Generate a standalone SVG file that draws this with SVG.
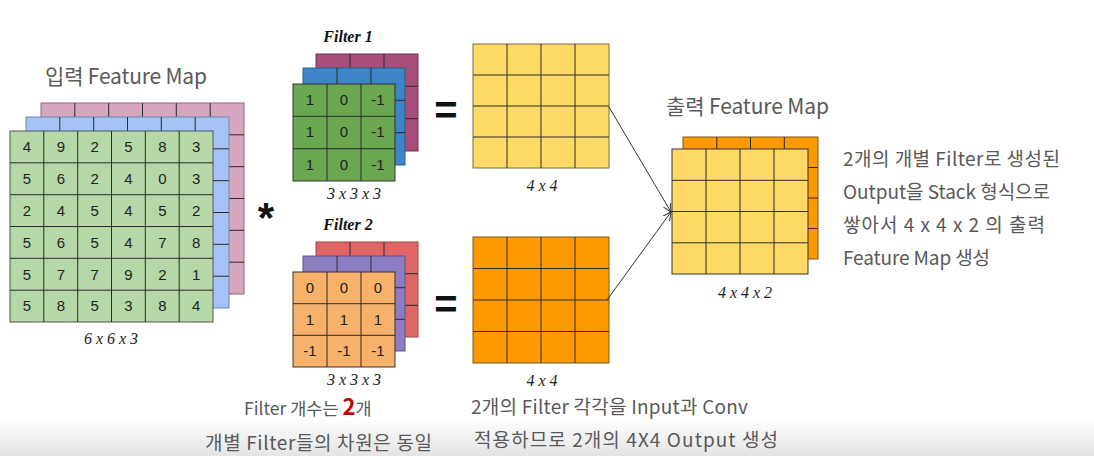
<svg xmlns="http://www.w3.org/2000/svg" width="1094" height="456" viewBox="0 0 1094 456">
<defs>
<linearGradient id="bg" x1="0" y1="0" x2="0" y2="1">
<stop offset="0" stop-color="#ffffff"/>
<stop offset="1" stop-color="#e4e4e4"/>
</linearGradient>
<marker id="ah" markerWidth="10" markerHeight="10" refX="8" refY="4" orient="auto" markerUnits="userSpaceOnUse">
<path d="M0,0 L8,4 L0,8" fill="none" stroke="#333" stroke-width="1"/>
</marker>
<style>
.grid{stroke:#2b2b2b;stroke-width:1;fill:none}
.num{font-family:"Liberation Sans",Arial,sans-serif;font-size:15px;fill:#222;text-anchor:middle}
.dim{font-family:"Liberation Serif","Times New Roman",serif;font-style:italic;font-size:16px;fill:#222;text-anchor:middle}
.ftitle{font-family:"Liberation Serif","Times New Roman",serif;font-style:italic;font-weight:bold;font-size:16px;fill:#111;text-anchor:middle}
.lbl{font-family:"Noto Sans CJK KR","Noto Sans",sans-serif;font-size:21px;fill:#595959}
.note{font-family:"Noto Sans CJK KR","Noto Sans",sans-serif;font-size:19px;fill:#595959}
.op{font-family:"Liberation Sans",Arial,sans-serif;font-weight:bold;fill:#111;text-anchor:middle}
</style>
</defs>
<rect x="0" y="0" width="1094" height="456" fill="#ffffff"/>
<rect x="0" y="418" width="1094" height="38" fill="url(#bg)"/>

<g id="input-map">
<text class="lbl" x="45" y="84" textLength="162" lengthAdjust="spacing">입력 Feature Map</text>
<g id="input-pink">
<rect x="41" y="103" width="203" height="191" fill="#d5a6bd" stroke="#8a6b7a"/>
<path class="grid" d="M74.8,103V294M108.7,103V294M142.5,103V294M176.3,103V294M210.2,103V294M41,134.8H244M41,166.7H244M41,198.5H244M41,230.3H244M41,262.2H244"/>
</g>
<g id="input-blue">
<rect x="26" y="117" width="203" height="191" fill="#a4c2f4" stroke="#6f88b0"/>
<path class="grid" d="M59.8,117V308M93.7,117V308M127.5,117V308M161.3,117V308M195.2,117V308M26,148.8H229M26,180.7H229M26,212.5H229M26,244.3H229M26,276.2H229"/>
</g>
<g id="input-green">
<rect x="10" y="131" width="203" height="191" fill="#b6d7a8" stroke="#555"/>
<path class="grid" d="M43.8,131V322M77.7,131V322M111.5,131V322M145.3,131V322M179.2,131V322M10,162.8H213M10,194.7H213M10,226.5H213M10,258.3H213M10,290.2H213"/>
<g class="num">
<text x="26.9" y="152">4</text><text x="60.8" y="152">9</text><text x="94.6" y="152">2</text><text x="128.4" y="152">5</text><text x="162.3" y="152">8</text><text x="196.1" y="152">3</text>
<text x="26.9" y="184">5</text><text x="60.8" y="184">6</text><text x="94.6" y="184">2</text><text x="128.4" y="184">4</text><text x="162.3" y="184">0</text><text x="196.1" y="184">3</text>
<text x="26.9" y="216">2</text><text x="60.8" y="216">4</text><text x="94.6" y="216">5</text><text x="128.4" y="216">4</text><text x="162.3" y="216">5</text><text x="196.1" y="216">2</text>
<text x="26.9" y="248">5</text><text x="60.8" y="248">6</text><text x="94.6" y="248">5</text><text x="128.4" y="248">4</text><text x="162.3" y="248">7</text><text x="196.1" y="248">8</text>
<text x="26.9" y="280">5</text><text x="60.8" y="280">7</text><text x="94.6" y="280">7</text><text x="128.4" y="280">9</text><text x="162.3" y="280">2</text><text x="196.1" y="280">1</text>
<text x="26.9" y="311">5</text><text x="60.8" y="311">8</text><text x="94.6" y="311">5</text><text x="128.4" y="311">3</text><text x="162.3" y="311">8</text><text x="196.1" y="311">4</text>
</g>
</g>
<text class="dim" x="111" y="344">6 x 6 x 3</text>
</g>

<g id="conv-op"><text class="op" x="266" y="232" font-size="42">*</text></g>

<g id="filter1">
<text class="ftitle" x="348" y="42">Filter 1</text>
<rect x="316" y="54" width="102" height="97" fill="#a64d79" stroke="#6e3350"/>
<path class="grid" d="M350,54V151M384,54V151M316,86.3H418M316,118.7H418"/>
<rect x="303" y="68" width="102" height="97" fill="#3d85c6" stroke="#2a5e8c"/>
<path class="grid" d="M337,68V165M371,68V165M303,100.3H405M303,132.7H405"/>
<rect x="293" y="84" width="102" height="97" fill="#6aa84f" stroke="#333"/>
<path class="grid" d="M327,84V181M361,84V181M293,116.3H395M293,148.7H395"/>
<g class="num">
<text x="310" y="105">1</text><text x="344" y="105">0</text><text x="378" y="105">-1</text>
<text x="310" y="137">1</text><text x="344" y="137">0</text><text x="378" y="137">-1</text>
<text x="310" y="170">1</text><text x="344" y="170">0</text><text x="378" y="170">-1</text>
</g>
<text class="dim" x="354" y="199">3 x 3 x 3</text>
</g>

<g id="filter2">
<text class="ftitle" x="348" y="230">Filter 2</text>
<rect x="316" y="242" width="102" height="95" fill="#e06666" stroke="#a04444"/>
<path class="grid" d="M350,242V337M384,242V337M316,273.7H418M316,305.3H418"/>
<rect x="303" y="256" width="102" height="95" fill="#8e7cc3" stroke="#5f528a"/>
<path class="grid" d="M337,256V351M371,256V351M303,287.7H405M303,319.3H405"/>
<rect x="293" y="272" width="102" height="95" fill="#f6b26b" stroke="#333"/>
<path class="grid" d="M327,272V367M361,272V367M293,303.7H395M293,335.3H395"/>
<g class="num">
<text x="310" y="293">0</text><text x="344" y="293">0</text><text x="378" y="293">0</text>
<text x="310" y="325">1</text><text x="344" y="325">1</text><text x="378" y="325">1</text>
<text x="310" y="356">-1</text><text x="344" y="356">-1</text><text x="378" y="356">-1</text>
</g>
<text class="dim" x="354" y="385">3 x 3 x 3</text>
</g>

<g id="equals">
<text class="op" x="446" y="124" font-size="40">=</text>
<text class="op" x="446" y="318" font-size="40">=</text>
</g>

<g id="output1">
<rect x="473" y="44" width="136" height="124" fill="#ffd966" stroke="#7a6a3a"/>
<path class="grid" d="M507,44V168M541,44V168M575,44V168M473,75H609M473,106H609M473,137H609"/>
<text class="dim" x="542" y="191">4 x 4</text>
</g>

<g id="output2">
<rect x="473" y="237" width="136" height="126" fill="#ff9900" stroke="#7a5a20"/>
<path class="grid" d="M507,237V363M541,237V363M575,237V363M473,268.5H609M473,300H609M473,331.5H609"/>
<text class="dim" x="542" y="386">4 x 4</text>
</g>

<g id="connectors">
<line x1="609" y1="107" x2="671" y2="212" stroke="#333" stroke-width="1" marker-end="url(#ah)"/>
<line x1="607" y1="300" x2="671" y2="212" stroke="#333" stroke-width="1" marker-end="url(#ah)"/>
</g>

<g id="output-stack">
<text class="lbl" x="666" y="114" textLength="163" lengthAdjust="spacing">출력 Feature Map</text>
<rect x="683" y="137" width="135" height="122" fill="#ff9900" stroke="#7a5a20"/>
<path class="grid" d="M716.8,137V259M750.5,137V259M784.3,137V259M683,167.5H818M683,198H818M683,228.5H818"/>
<rect x="672" y="149" width="136" height="125" fill="#ffd966" stroke="#333"/>
<path class="grid" d="M706,149V274M740,149V274M774,149V274M672,180.3H808M672,211.5H808M672,242.8H808"/>
<text class="dim" x="745" y="298">4 x 4 x 2</text>
</g>

<g id="notes">
<text class="note" x="843" y="166" textLength="217" lengthAdjust="spacing">2개의 개별 Filter로 생성된</text>
<text class="note" x="843" y="199" textLength="207" lengthAdjust="spacing">Output을 Stack 형식으로</text>
<text class="note" x="843" y="232" textLength="202" lengthAdjust="spacing">쌓아서 4 x 4 x 2 의 출력</text>
<text class="note" x="843" y="265" textLength="147" lengthAdjust="spacing">Feature Map 생성</text>
<text class="note" x="244" y="415" style="font-size:17.5px">Filter 개수는 <tspan fill="#c00000" font-weight="bold" style="font-size:22px">2</tspan>개</text>
<text class="note" x="205" y="450" textLength="227" lengthAdjust="spacing">개별 Filter들의 차원은 동일</text>
<text class="note" x="471" y="414" textLength="277" lengthAdjust="spacing">2개의 Filter 각각을 Input과 Conv</text>
<text class="note" x="474" y="447" textLength="304" lengthAdjust="spacing">적용하므로 2개의 4X4 Output 생성</text>
</g>
</svg>
